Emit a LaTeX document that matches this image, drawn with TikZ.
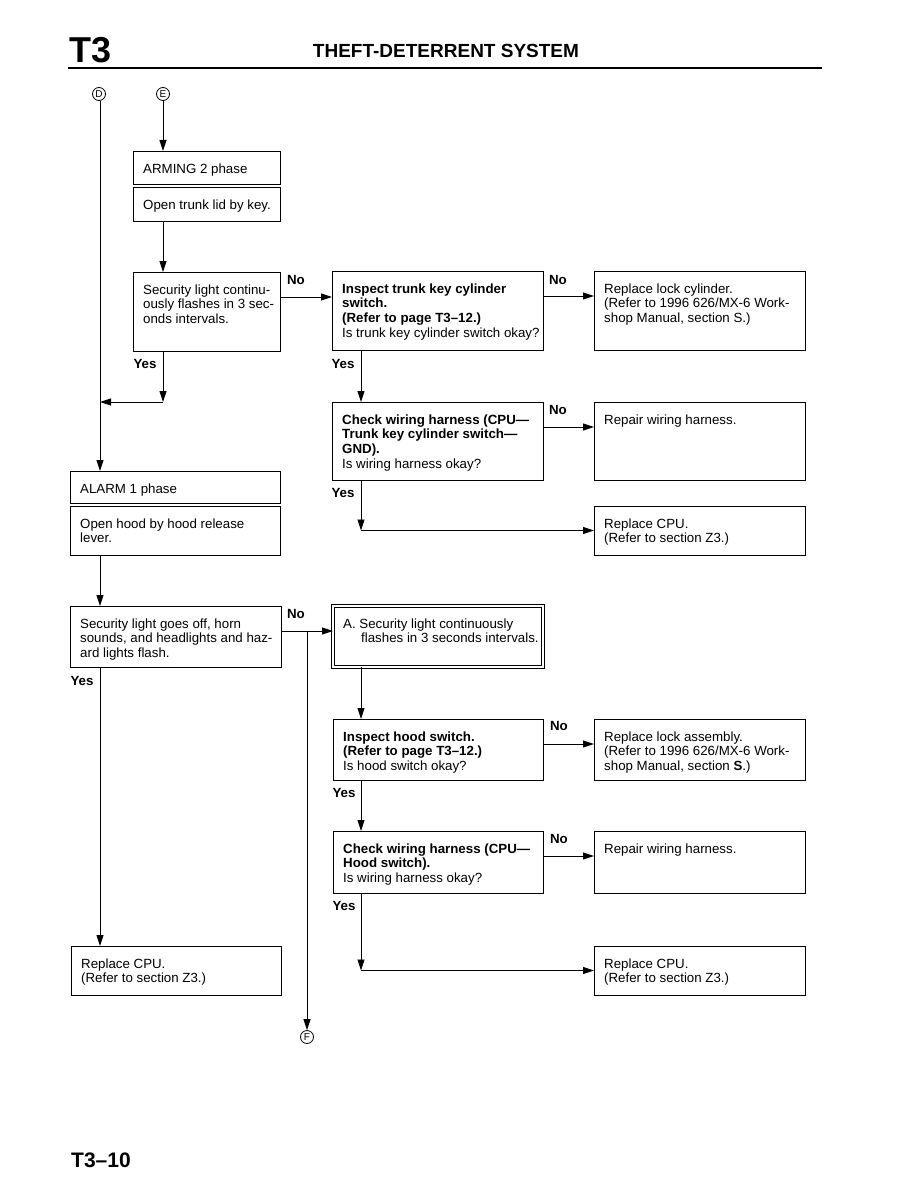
\documentclass[tikz,border=0pt]{standalone}
\usepackage{fontspec}
\setmainfont{Liberation Sans}
\usetikzlibrary{arrows.meta,calc}
\newcommand\flowbox[6]{%
  \node[box, minimum width=#4pt, minimum height=#5pt] (#1) at (#2,#3) {};
  \node[txt] (#1t) at ([xshift=10pt,yshift=-11.8pt]#1.north west) {\strut #6};}
\newcommand\noarrow[2]{%
  \coordinate (#1no) at ([yshift=-25pt]#1.north east);
  \draw[arr] (#1no) -- (#1no -| #2.west);}
\begin{document}
\begin{tikzpicture}[x=1pt,y=-1pt,
  box/.style={draw, line width=0.9pt, anchor=north west, inner sep=0pt, outer sep=0pt},
  txt/.style={anchor=north west, align=left, inner sep=0pt, font=\fontsize{13.3}{14.6}\selectfont},
  lab/.style={font=\bfseries\fontsize{13.3}{14}\selectfont, inner sep=0pt},
  conn/.style={line width=0.9pt},
  arr/.style={conn, -{Triangle[length=11pt,width=7pt]}},
  circ/.style={draw, circle, inner sep=0pt, minimum size=13pt, line width=0.8pt, font=\fontsize{10}{10}\selectfont}
]
\useasboundingbox[fill=white] (0,0) rectangle (918,1188);

% header
\node[anchor=base west, inner sep=0pt, font=\bfseries\fontsize{36}{36}\selectfont] (pg) at (69,63) {T3};
\node[anchor=base, inner sep=0pt, font=\bfseries\fontsize{19}{19}\selectfont] (title) at (446,58) {THEFT-DETERRENT SYSTEM};
\draw[line width=2pt] (68,68) -- (822,68);
\node[anchor=base west, inner sep=0pt, font=\bfseries\fontsize{21}{21}\selectfont] (foot) at (71,1167) {T3–10};

% connector circles
\node[circ] (D) at (99,94) {D};
\node[circ] (E) at (163,94) {E};
\node[circ] (F) at (307,1037) {F};
\coordinate (c2) at (361,0);
\coordinate (cD) at (100,0);

% boxes
\flowbox{arm}{133}{151}{147}{33}{ARMING 2 phase}
\flowbox{trunk}{133}{187}{147}{34}{Open trunk lid by key.}
\flowbox{sec}{133}{272}{147}{79}{Security light continu-\\ously flashes in 3 sec-\\onds intervals.}
\flowbox{inspT}{332}{271}{211}{79}{\textbf{Inspect trunk key cylinder}\\\textbf{switch.}\\\textbf{(Refer to page T3–12.)}\\Is trunk key cylinder switch okay?}
\flowbox{lockC}{594}{271}{211}{79}{Replace lock cylinder.\\(Refer to 1996 626/MX-6 Work-\\shop Manual, section S.)}
\flowbox{chkT}{332}{402}{211}{78}{\textbf{Check wiring harness (CPU—}\\\textbf{Trunk key cylinder switch—}\\\textbf{GND).}\\Is wiring harness okay?}
\flowbox{repT}{594}{402}{211}{78}{Repair wiring harness.}
\flowbox{cpuA}{594}{506}{211}{49}{Replace CPU.\\(Refer to section Z3.)}
\flowbox{alarm}{70}{471}{210}{32}{ALARM 1 phase}
\flowbox{hood}{70}{506}{210}{49}{Open hood by hood release\\lever.}
\flowbox{secA}{70}{606}{211}{61}{Security light goes off, horn\\sounds, and headlights and haz-\\ard lights flash.}
\flowbox{cpuL}{71}{946}{210}{49}{Replace CPU.\\(Refer to section Z3.)}
\node[box, double, double distance=1.6pt, minimum width=210pt, minimum height=61pt] (Abox) at (333,606) {};
\node[txt] (Aboxt) at ([xshift=10pt,yshift=-11.8pt]Abox.north west) {\strut A. Security light continuously\\\hspace*{18pt}flashes in 3 seconds intervals.};
\flowbox{inspH}{333}{719}{210}{61}{\textbf{Inspect hood switch.}\\\textbf{(Refer to page T3–12.)}\\Is hood switch okay?}
\flowbox{lockA}{594}{719}{211}{61}{Replace lock assembly.\\(Refer to 1996 626/MX-6 Work-\\shop Manual, section \textbf{S}.)}
\flowbox{chkH}{333}{831}{210}{62}{\textbf{Check wiring harness (CPU—}\\\textbf{Hood switch).}\\Is wiring harness okay?}
\flowbox{repH}{594}{831}{211}{62}{Repair wiring harness.}
\flowbox{cpuB}{594}{946}{211}{49}{Replace CPU.\\(Refer to section Z3.)}

% connectors
\draw[arr] (E) -- (E |- arm.north);
\draw[arr] (trunk.south -| E) -- (sec.north -| E);
\draw[arr] (sec.south -| E) -- (chkT.north -| E);
\draw[arr] (chkT.north -| E) -- (chkT.north -| cD);
\draw[arr] (D.south -| cD) -- (alarm.north -| cD);
\noarrow{sec}{inspT}
\noarrow{inspT}{lockC}
\noarrow{chkT}{repT}
\draw[arr] (inspT.south -| c2) -- (chkT.north -| c2);
\draw[arr] (chkT.south -| c2) -- (cpuA.west -| c2);
\draw[arr] (cpuA.west -| c2) -- (cpuA.west);
\draw[arr] (hood.south -| cD) -- (secA.north -| cD);
\noarrow{secA}{Abox}
\draw[arr] (secAno -| F) -- (F);
\draw[arr] (secA.south -| cD) -- (cpuL.north -| cD);
\draw[arr] (Abox.south -| c2) -- (inspH.north -| c2);
\noarrow{inspH}{lockA}
\draw[arr] (inspH.south -| c2) -- (chkH.north -| c2);
\noarrow{chkH}{repH}
\draw[arr] (chkH.south -| c2) -- (cpuB.west -| c2);
\draw[arr] (cpuB.west -| c2) -- (cpuB.west);

% labels
\node[lab] (l1) at (296,280) {No};
\node[lab] (l2) at (558,280) {No};
\node[lab] (l3) at (145,364) {Yes};
\node[lab] (l4) at (343,364) {Yes};
\node[lab] (l5) at (558,410) {No};
\node[lab] (l6) at (343,493) {Yes};
\node[lab] (l7) at (296,614) {No};
\node[lab] (l8) at (82,681) {Yes};
\node[lab] (l9) at (559,726) {No};
\node[lab] (l10) at (344,793) {Yes};
\node[lab] (l11) at (559,839) {No};
\node[lab] (l12) at (344,906) {Yes};
\end{tikzpicture}
\end{document}
